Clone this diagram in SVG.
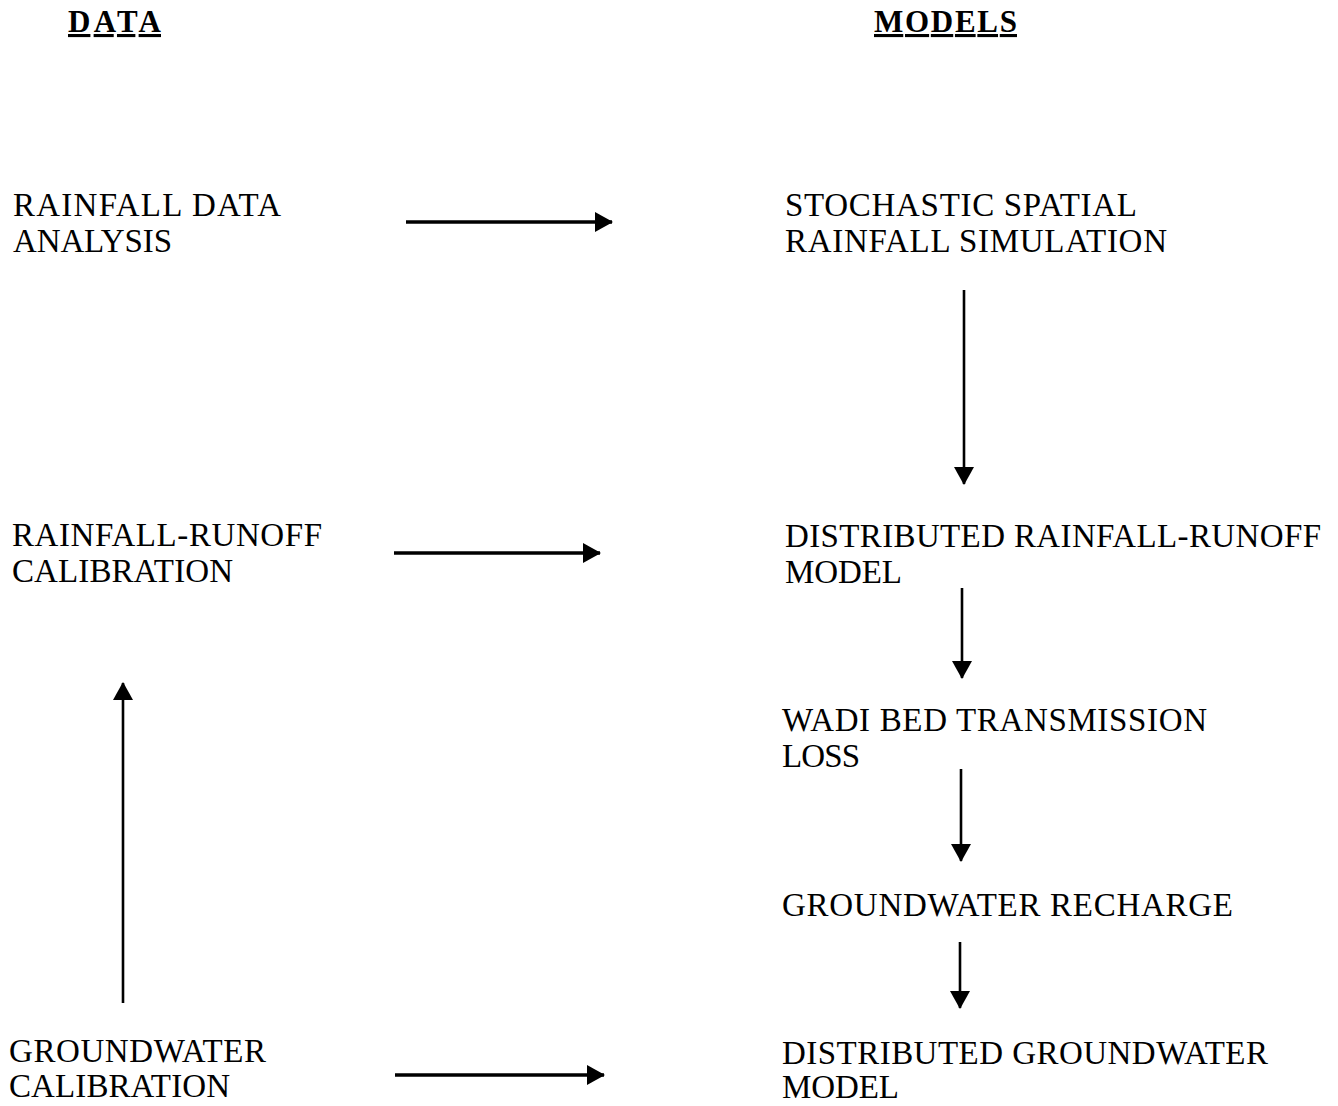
<svg xmlns="http://www.w3.org/2000/svg" width="1338" height="1106" viewBox="0 0 1338 1106">
<defs>
<marker id="ah" viewBox="0 0 18 20" refX="17" refY="10" markerWidth="18" markerHeight="20" markerUnits="userSpaceOnUse" orient="auto">
<path d="M0,0 L18,10 L0,20 Z" fill="#000"/>
</marker>
<style>
text{font-family:"Liberation Serif","Times New Roman",serif;font-size:33px;fill:#000}
.hd{font-weight:bold;font-size:31px;text-decoration:underline}
.c{stroke:#000;stroke-width:3.5;fill:none;marker-end:url(#ah)}
.v{stroke-width:2.6}
</style>
</defs>
<rect width="1338" height="1106" fill="#fff"/>
<g id="hdr-data"><text class="hd" x="68" y="32" textLength="93">DATA</text></g>
<g id="hdr-models"><text class="hd" x="874" y="32" textLength="143">MODELS</text></g>
<g id="n-rda"><text x="13" y="216" textLength="268">RAINFALL DATA</text><text x="13" y="252" textLength="159">ANALYSIS</text></g>
<g id="n-rrc"><text x="12" y="546" textLength="310">RAINFALL-RUNOFF</text><text x="12" y="582" textLength="221">CALIBRATION</text></g>
<g id="n-gwc"><text x="9" y="1062" textLength="257">GROUNDWATER</text><text x="9" y="1097" textLength="221">CALIBRATION</text></g>
<g id="n-ssrs"><text x="785" y="216" textLength="352">STOCHASTIC SPATIAL</text><text x="785" y="252" textLength="382">RAINFALL SIMULATION</text></g>
<g id="n-drrm"><text x="785" y="547" textLength="536">DISTRIBUTED RAINFALL-RUNOFF</text><text x="785" y="583" textLength="117">MODEL</text></g>
<g id="n-wbtl"><text x="782" y="731" textLength="425">WADI BED TRANSMISSION</text><text x="782" y="767" textLength="78">LOSS</text></g>
<g id="n-gwr"><text x="782" y="916" textLength="451">GROUNDWATER RECHARGE</text></g>
<g id="n-dgm"><text x="782" y="1064" textLength="486">DISTRIBUTED GROUNDWATER</text><text x="782" y="1098" textLength="117">MODEL</text></g>
<g id="connectors">
<line class="c" x1="406" y1="222" x2="612" y2="222"/>
<line class="c" x1="394" y1="553" x2="600" y2="553"/>
<line class="c" x1="395" y1="1075" x2="604" y2="1075"/>
<line class="c v" x1="964" y1="290" x2="964" y2="484"/>
<line class="c v" x1="962" y1="588" x2="962" y2="678"/>
<line class="c v" x1="961" y1="769" x2="961" y2="861"/>
<line class="c v" x1="960" y1="942" x2="960" y2="1008"/>
<line class="c v" x1="123" y1="1003" x2="123" y2="683"/>
</g>
</svg>
